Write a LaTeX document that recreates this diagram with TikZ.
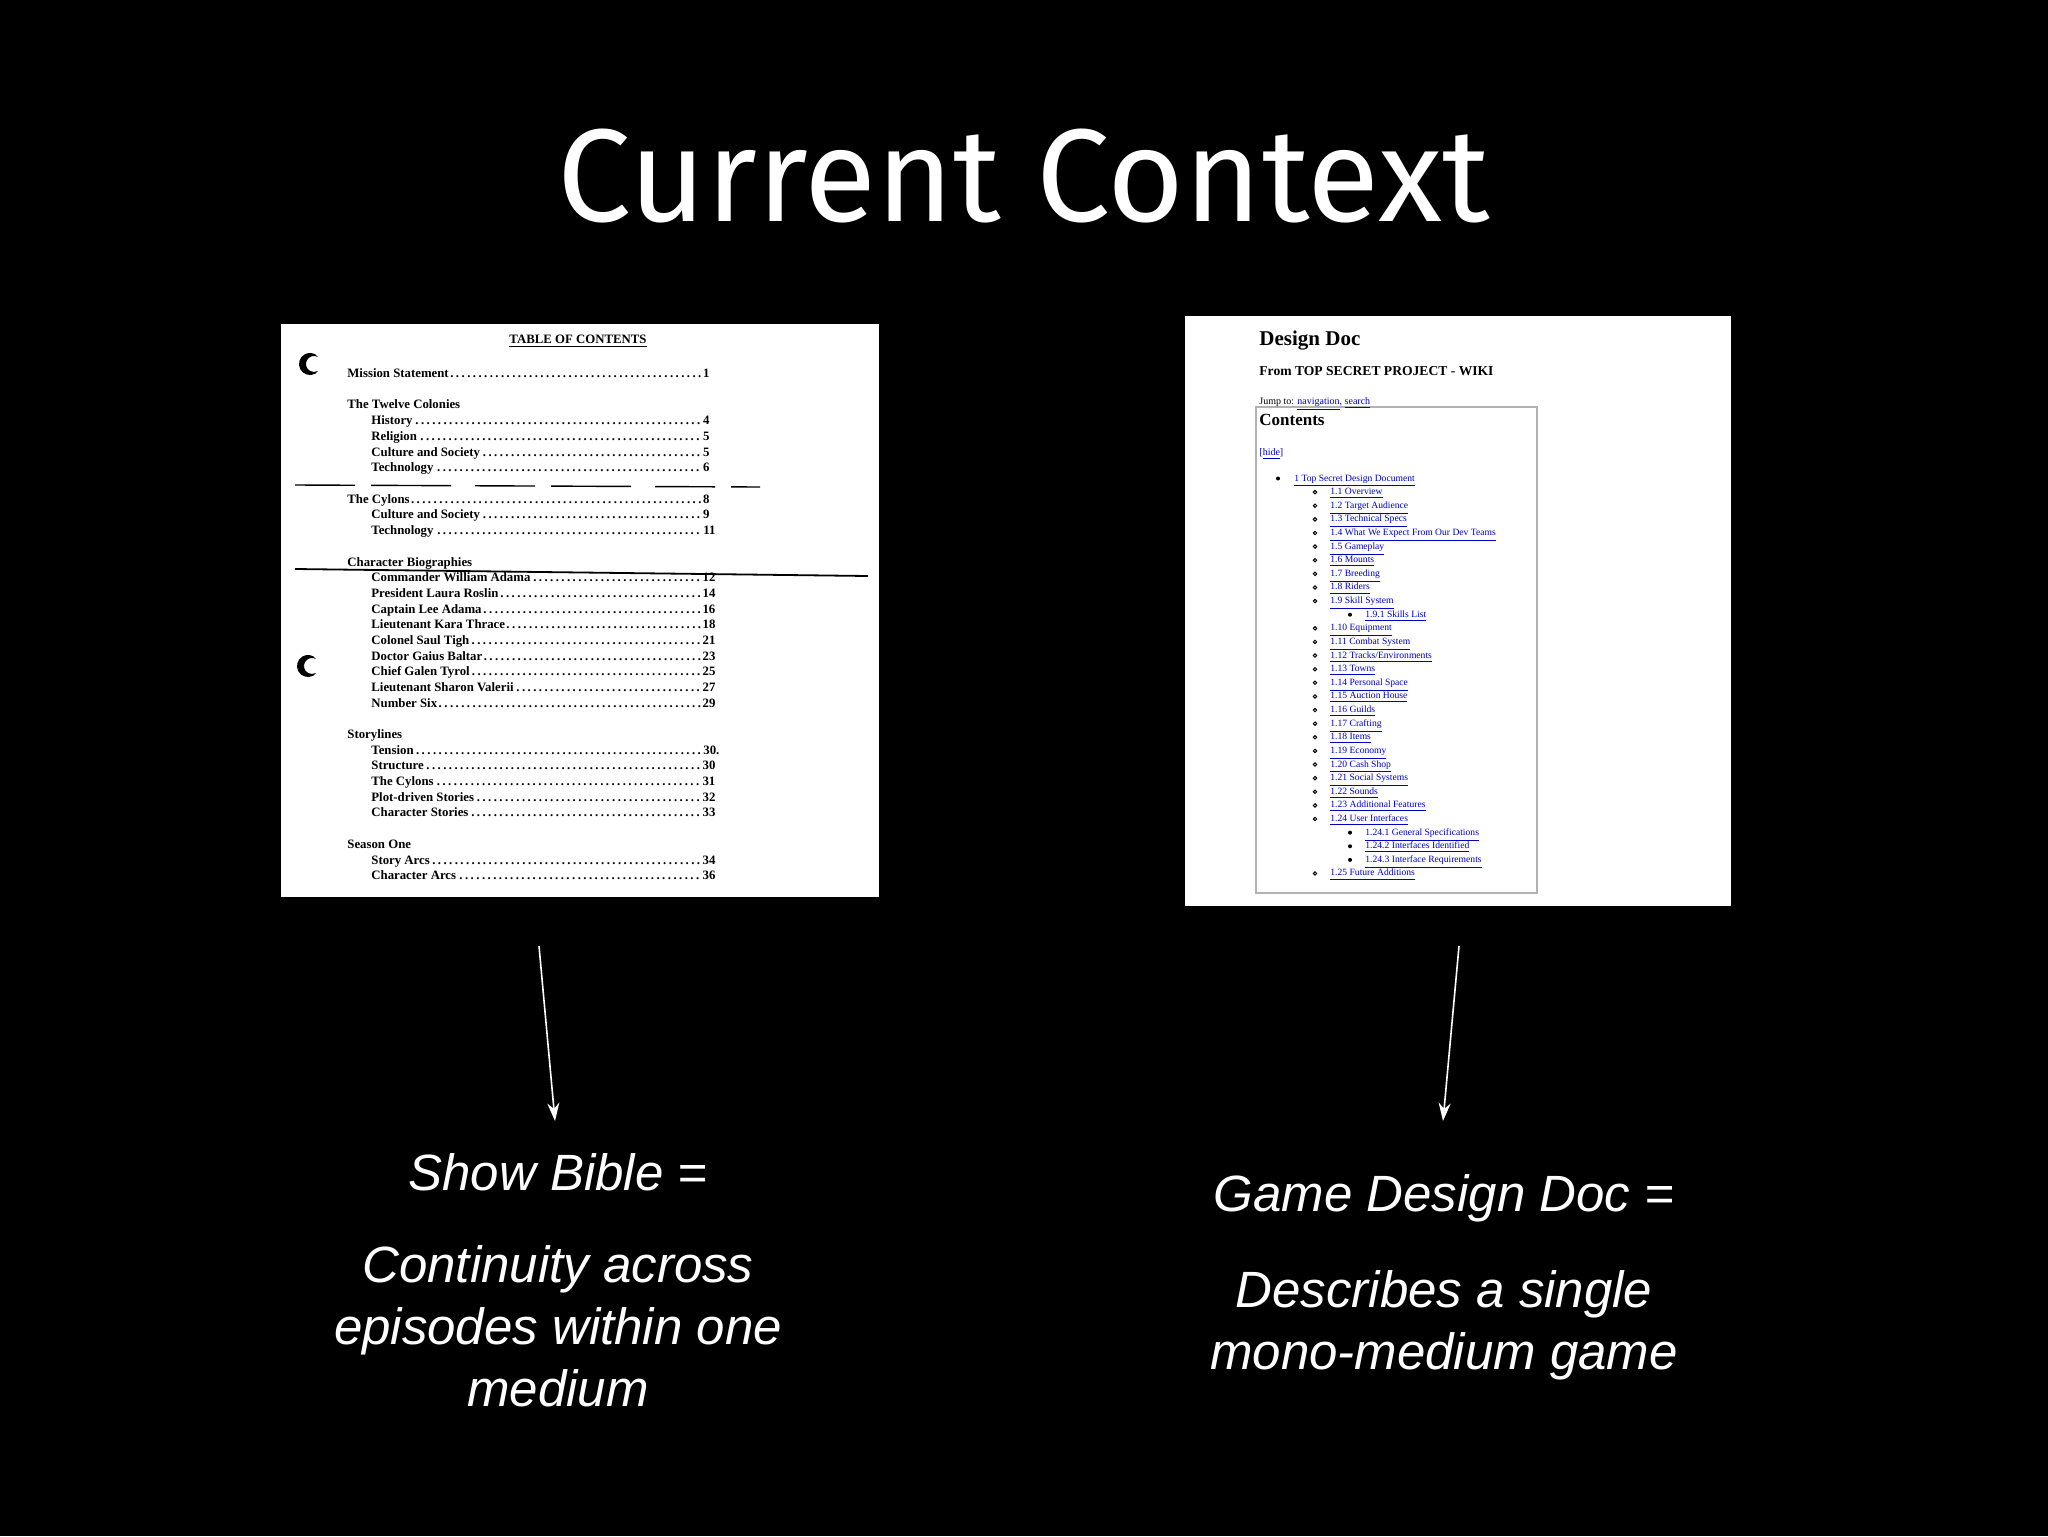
\documentclass[tikz,border=0pt]{standalone}
\usepackage{fontspec}
\setmainfont{Liberation Serif}
\newfontfamily\titlefont{Fira Sans}
\newfontfamily\capfont{Liberation Sans}
\usetikzlibrary{arrows.meta}
\newcommand\tocline[5]{\node[toc,anchor=base west] (#1) at (#2) {\makebox[#3pt]{#4\dotfill#5}};}
\begin{document}
\begin{tikzpicture}[x=0.5pt,y=-0.5pt,
  toc/.style={inner sep=0,font=\fontsize{6.4}{7}\selectfont\bfseries},
  wiki/.style={inner sep=0,font=\fontsize{4.8}{5}\selectfont,text=blue!75!black},
  captxt/.style={text=white,font=\capfont\itshape\fontsize{25.5}{31}\selectfont,align=center},
  arr/.style={white,line width=0.8pt,-{Stealth[length=9pt,width=6pt]}}]
\fill[black] (0,0) rectangle (2048,1536);
\useasboundingbox (0,0) rectangle (2048,1536);
\node[text=white,font=\titlefont\fontsize{66}{70}\selectfont] (title) at (1024,176) {Current Context};
% left document
\fill[white] (281,324) rectangle (879,897);
\node[toc] (toct) at (578,341) {\underline{TABLE OF CONTENTS}};
\foreach \px/\py in {310/364,308/666}{
  \fill[black] ({\px+11*cos(60)},{\py+11*sin(60)}) arc (60:300:11)
     -- ({\px+4+8*cos(300)},{\py+8*sin(300)}) arc (300:60:8) -- cycle;
}
\draw[black,line width=0.7pt,dash pattern=on 30 off 8 on 40 off 12] (295,485) -- (760,487);
\draw[black,line width=0.9pt] (295,569) -- (868,576);
\tocline{a1}{347,377}{181}{Mission Statement}{1}
\node[toc,anchor=base west] (a2) at (347,408) {The Twelve Colonies};
\tocline{a3}{371,424}{169}{History}{4}
\tocline{a4}{371,440}{169}{Religion}{5}
\tocline{a5}{371,456}{169}{Culture and Society}{5}
\tocline{a6}{371,471}{169}{Technology}{6}
\tocline{a7}{347,503}{181}{The Cylons}{8}
\tocline{a8}{371,518}{169}{Culture and Society}{9}
\tocline{a9}{371,534}{172}{Technology}{11}
\node[toc,anchor=base west] (a10) at (347,566) {Character Biographies};
\tocline{b1}{371,581}{172}{Commander William Adama}{12}
\tocline{b2}{371,597}{172}{President Laura Roslin}{14}
\tocline{b3}{371,613}{172}{Captain Lee Adama}{16}
\tocline{b4}{371,628}{172}{Lieutenant Kara Thrace}{18}
\tocline{b5}{371,644}{172}{Colonel Saul Tigh}{21}
\tocline{b6}{371,660}{172}{Doctor Gaius Baltar}{23}
\tocline{b7}{371,675}{172}{Chief Galen Tyrol}{25}
\tocline{b8}{371,691}{172}{Lieutenant Sharon Valerii}{27}
\tocline{b9}{371,707}{172}{Number Six}{29}
\node[toc,anchor=base west] (c0) at (347,738) {Storylines};
\tocline{c1}{371,754}{174}{Tension}{30.}
\tocline{c2}{371,769}{172}{Structure}{30}
\tocline{c3}{371,785}{172}{The Cylons}{31}
\tocline{c4}{371,801}{172}{Plot-driven Stories}{32}
\tocline{c5}{371,816}{172}{Character Stories}{33}
\node[toc,anchor=base west] (d0) at (347,848) {Season One};
\tocline{d1}{371,864}{172}{Story Arcs}{34}
\tocline{d2}{371,879}{172}{Character Arcs}{36}
% right document
\fill[white] (1185,316) rectangle (1731,906);
\draw[gray!60,line width=0.8pt] (1256,407) rectangle (1537,893);
\node[anchor=base west,inner sep=0,font=\fontsize{10.5}{11}\selectfont\bfseries] (dd) at (1259,345) {Design Doc};
\node[anchor=base west,inner sep=0,font=\fontsize{6.8}{8}\selectfont\bfseries] (from) at (1259,375) {From TOP SECRET PROJECT - WIKI};
\node[anchor=base west,inner sep=0,font=\fontsize{5}{6}\selectfont] (jump) at (1259,404) {Jump to: \textcolor{blue!75!black}{\underline{navigation}, \underline{search}}};
\node[anchor=base west,inner sep=0,font=\fontsize{8.5}{9}\selectfont\bfseries] (cont) at (1259,425) {Contents};
\node[anchor=base west,inner sep=0,font=\fontsize{5}{6}\selectfont,text=blue!75!black] (hide) at (1259,455) {[\underline{hide}]};
\foreach [count=\i from 0] \lv/\t in {
 0/{1 Top Secret Design Document}, 1/{1.1 Overview}, 1/{1.2 Target Audience}, 1/{1.3 Technical Specs},
 1/{1.4 What We Expect From Our Dev Teams}, 1/{1.5 Gameplay}, 1/{1.6 Mounts}, 1/{1.7 Breeding}, 1/{1.8 Riders},
 1/{1.9 Skill System}, 2/{1.9.1 Skills List}, 1/{1.10 Equipment}, 1/{1.11 Combat System},
 1/{1.12 Tracks/Environments}, 1/{1.13 Towns}, 1/{1.14 Personal Space}, 1/{1.15 Auction House},
 1/{1.16 Guilds}, 1/{1.17 Crafting}, 1/{1.18 Items}, 1/{1.19 Economy}, 1/{1.20 Cash Shop},
 1/{1.21 Social Systems}, 1/{1.22 Sounds}, 1/{1.23 Additional Features}, 1/{1.24 User Interfaces},
 2/{1.24.1 General Specifications}, 2/{1.24.2 Interfaces Identified}, 2/{1.24.3 Interface Requirements},
 1/{1.25 Future Additions}}{
  \pgfmathsetmacro\yy{481+13.62*\i}
  \pgfmathsetmacro\tx{\lv==0 ? 1294 : (\lv==1 ? 1330 : 1365)}
  \pgfmathsetmacro\bx{\lv==0 ? 1278 : (\lv==1 ? 1315 : 1350)}
  \node[wiki,anchor=base west] (w\i) at (\tx,\yy) {\underline{\t}};
  \ifnum\lv=1
    \draw[black,line width=0.5pt] (\bx,\yy-2.5) circle (1.7);
  \else
    \fill[black] (\bx,\yy-2.5) circle (2);
  \fi
}
% arrows
\coordinate (la1) at (539,946); \coordinate (la2) at (555,1121);
\coordinate (ra1) at (1459,946); \coordinate (ra2) at (1443,1121);
\draw[arr] (la1) -- (la2);
\draw[arr] (ra1) -- (ra2);
% captions
\node[captxt] (l1) at (558,1172) {Show Bible =};
\node[captxt] (l2) at (558,1326) {Continuity across\\ episodes within one\\ medium};
\node[captxt] (r1) at (1444,1198) {Game Design Doc =};
\node[captxt] (r2) at (1444,1325) {Describes a single\\ mono-medium game};
\end{tikzpicture}
\end{document}
